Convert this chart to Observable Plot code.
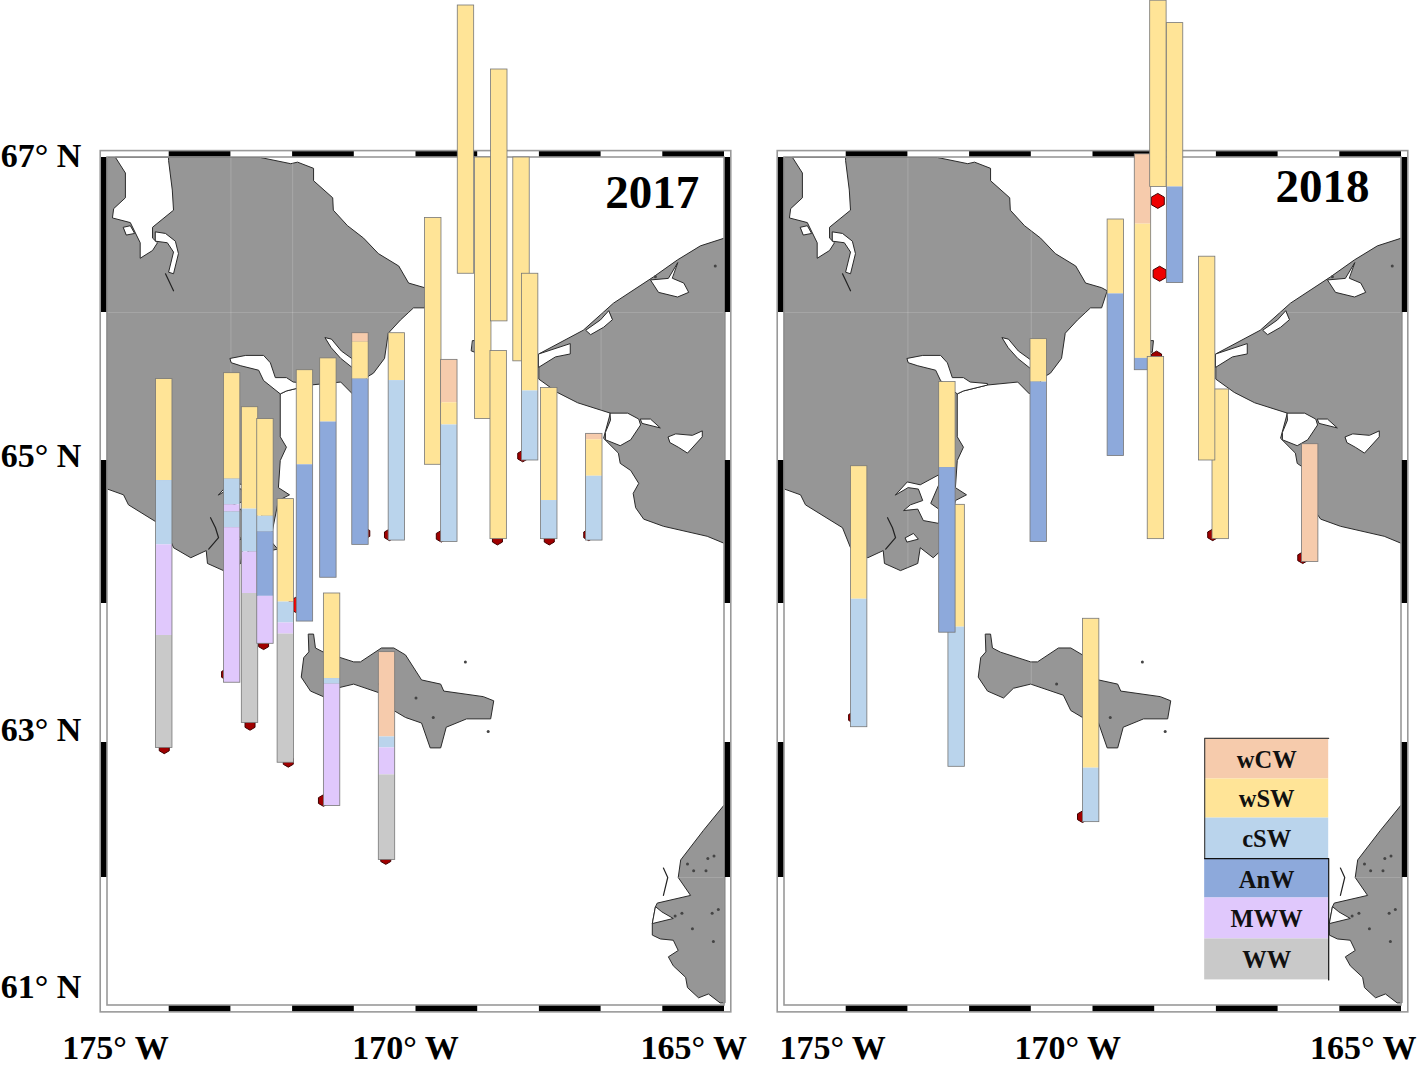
<!DOCTYPE html>
<html>
<head>
<meta charset="utf-8">
<script src="https://cdn.jsdelivr.net/npm/d3@7"></script>
<script src="https://cdn.jsdelivr.net/npm/@observablehq/plot@0.6"></script>
<style>
  body { margin: 0; background: white; }
  #chart { display: flex; width: 1417px; height: 1071px; overflow: hidden; }
  #chart svg { flex: none; max-width: none; }
</style>
</head>
<body>
<div id="chart"></div>
<script>
// water masses and their colours
const massNames = ["wCW", "wSW", "cSW", "AnW", "MWW", "WW"];
const massColors = ["#F6CBAC", "#FFE497", "#BAD4EC", "#8DA9DB", "#E0C8FC", "#C9C9C9"];

// 2017 stations: longitude, masses from top to bottom, latitude edges of the bar
const lon2017 = [-174.08, -172.98, -172.69, -172.44, -172.11, -171.80, -171.42, -170.90, -170.31, -169.72, -169.46, -169.19, -168.91, -168.65, -168.66, -168.29, -168.15, -167.84, -167.11, -171.36, -170.47];
const masses2017 = [
  ["wSW", "cSW", "MWW", "WW"], ["wSW", "cSW", "MWW", "cSW", "MWW"], ["wSW", "cSW", "MWW", "WW"], ["wSW", "cSW", "AnW", "MWW"],
  ["wSW", "cSW", "MWW", "WW"], ["wSW", "AnW"], ["wSW", "AnW"], ["wCW", "wSW", "AnW"], ["wSW", "cSW"], ["wSW"],
  ["wCW", "wSW", "cSW"], ["wSW"], ["wSW"], ["wSW"], ["wSW"], ["wSW"], ["wSW", "cSW"], ["wSW", "cSW"], ["wCW", "wSW", "cSW"],
  ["wSW", "cSW", "MWW"], ["wCW", "cSW", "MWW", "WW"]
];
const edges2017 = [
  [65.55, 64.86, 64.41, 63.77, 62.96], [65.59, 64.87, 64.69, 64.64, 64.53, 63.43], [65.36, 64.66, 64.36, 64.07, 63.14], [65.28, 64.61, 64.50, 64.05, 63.71],
  [64.73, 64.01, 63.86, 63.78, 62.85], [65.61, 64.97, 63.87], [65.69, 65.26, 64.18], [65.86, 65.80, 65.55, 64.41], [65.86, 65.54, 64.44], [66.61, 64.97],
  [65.68, 65.39, 65.24, 64.43], [67.95, 66.25], [67.00, 65.28], [67.55, 65.94], [65.74, 64.45], [67.00, 65.67], [66.25, 65.47, 65.00], [65.49, 64.72, 64.45], [65.18, 65.14, 64.89, 64.44],
  [64.07, 63.46, 63.42, 62.53], [63.65, 63.04, 62.96, 62.76, 62.13]
];

// 2018 stations
const lon2018 = [-173.79, -172.21, -172.36, -170.88, -169.63, -169.19, -168.94, -168.67, -168.98, -167.93, -168.15, -166.48, -170.03];
const masses2018 = [["wSW", "cSW"], ["wSW", "cSW"], ["wSW", "AnW"], ["wSW", "AnW"], ["wSW", "AnW"], ["wCW", "wSW", "AnW"], ["wSW"], ["wSW", "AnW"], ["wSW"], ["wSW"], ["wSW"], ["wCW"], ["wSW", "cSW"]];
const edges2018 = [
  [64.96, 64.03, 63.11], [64.69, 63.83, 62.82], [65.53, 64.95, 63.79], [65.82, 65.53, 64.43], [66.60, 66.12, 65.03], [67.02, 66.57, 65.69, 65.61],
  [67.98, 66.81], [67.84, 66.81, 66.19], [65.70, 64.45], [65.48, 64.45], [66.36, 65.00], [65.11, 64.29], [63.89, 62.81, 62.41]
];

// station dots: the ones mostly hidden under the bars look dark, the free ones bright
const darkDots2017 = [[-174.08, 62.96], [-172.69, 63.13], [-172.47, 63.71], [-172.07, 62.86], [-171.50, 62.57], [-170.49, 62.14], [-170.43, 64.48], [-169.59, 64.47], [-170.83, 64.49], [-168.68, 64.45], [-167.84, 64.45], [-167.20, 64.48], [-168.27, 65.03], [-173.07, 63.49]];
const brightDots2017 = [[-171.95, 63.99]];
const darkDots2018 = [[-168.97, 65.70], [-168.06, 64.48], [-166.60, 64.32], [-173.88, 63.18], [-170.17, 62.45]];
const brightDots2018 = [[-168.95, 66.72], [-168.92, 66.25]];

// land outlines, [lon, lat]
const chukotka = [[-175, 67], [-172.52, 67], [-172.03, 66.96], [-171.92, 66.97], [-171.66, 66.93], [-171.66, 66.85], [-171.35, 66.74], [-171.34, 66.66], [-171.11, 66.56], [-170.85, 66.48], [-170.61, 66.38], [-170.28, 66.30], [-170.12, 66.19], [-169.86, 66.16], [-169.77, 66.14], [-169.86, 66.03], [-170.04, 66.03], [-170.25, 65.95], [-170.45, 65.86], [-170.51, 65.69], [-170.69, 65.59], [-170.77, 65.57], [-171.03, 65.45], [-171.22, 65.53], [-171.71, 65.51], [-172.10, 65.47], [-172.20, 65.45], [-172.20, 65.16], [-172.10, 65.09], [-172.20, 65], [-172.23, 64.81], [-172.05, 64.76], [-172.23, 64.72], [-172.36, 64.44], [-172.24, 64.38], [-172.49, 64.36], [-172.59, 64.32], [-172.80, 64.39], [-172.84, 64.28], [-173.12, 64.23], [-173.38, 64.28], [-173.40, 64.37], [-173.65, 64.32], [-173.93, 64.39], [-174.06, 64.53], [-174.66, 64.69], [-174.74, 64.76], [-175, 64.80]];
const alaska = [[-165, 66.48], [-165.39, 66.43], [-165.76, 66.34], [-166.15, 66.23], [-166.80, 66.06], [-167.29, 65.88], [-168.01, 65.72], [-168.01, 65.55], [-167.71, 65.46], [-167.38, 65.39], [-166.85, 65.32], [-166.96, 65.15], [-166.72, 65.05], [-166.69, 64.98], [-166.52, 64.93], [-166.39, 64.84], [-166.48, 64.77], [-166.44, 64.67], [-166.31, 64.59], [-165.99, 64.54], [-165.28, 64.47], [-165, 64.42]];
const stLawrence = [[-171.74, 63.78], [-171.66, 63.78], [-171.63, 63.68], [-171.50, 63.65], [-171.01, 63.58], [-170.90, 63.58], [-170.56, 63.68], [-170.36, 63.68], [-170.17, 63.63], [-169.91, 63.45], [-169.60, 63.42], [-169.55, 63.37], [-168.91, 63.33], [-168.74, 63.30], [-168.79, 63.17], [-169.18, 63.17], [-169.51, 63.11], [-169.60, 62.96], [-169.77, 62.96], [-169.91, 63.14], [-170.17, 63.18], [-170.36, 63.23], [-170.48, 63.34], [-171.01, 63.42], [-171.29, 63.39], [-171.45, 63.32], [-171.71, 63.37], [-171.86, 63.47], [-171.82, 63.61], [-171.74, 63.65]];
const nunivak = [[-165, 62.54], [-165.34, 62.35], [-165.71, 62.13], [-165.75, 62], [-165.55, 61.86], [-166.09, 61.80], [-166.12, 61.77], [-166.17, 61.64], [-166.17, 61.55], [-166.04, 61.52], [-165.83, 61.51], [-165.75, 61.43], [-165.91, 61.38], [-165.83, 61.31], [-165.63, 61.22], [-165.60, 61.14], [-165.42, 61.06], [-165.26, 61.09], [-165.07, 61.02], [-165, 61.02]];
const diomede = [[-169.08, 65.81], [-169.02, 65.81], [-169.04, 65.73], [-169.10, 65.74]];
const landShapes = [chukotka, alaska, stLawrence, nunivak, diomede];

// bays and lagoons
const krestaGulf = [[-174.87, 67], [-174.71, 66.90], [-174.71, 66.74], [-174.90, 66.67], [-174.92, 66.61], [-174.63, 66.58], [-174.47, 66.45], [-174.47, 66.35], [-174.27, 66.40], [-174.19, 66.45], [-174.27, 66.48], [-174.27, 66.55], [-173.93, 66.66], [-173.95, 66.79], [-174.01, 66.98], [-174.01, 67]];
const krestaArm = [[-174.22, 66.52], [-174.06, 66.51], [-173.90, 66.46], [-173.85, 66.38], [-173.93, 66.25], [-174.01, 66.26], [-173.93, 66.39], [-174.03, 66.45], [-174.22, 66.46]];
const krestaIslet = [[-174.74, 66.55], [-174.63, 66.56], [-174.56, 66.51], [-174.69, 66.50]];
const mechigmen = [[-173.01, 65.69], [-172.76, 65.71], [-172.47, 65.71], [-172.36, 65.66], [-172.28, 65.56], [-172.10, 65.56], [-171.99, 65.53], [-171.71, 65.52], [-171.71, 65.51], [-172.10, 65.47], [-172.20, 65.45], [-172.47, 65.54], [-172.55, 65.61], [-172.84, 65.64], [-172.99, 65.66]];
const lagoonNorth = [[-171.47, 65.83], [-171.37, 65.82], [-171.21, 65.74], [-171.01, 65.68], [-171.01, 65.62], [-171.22, 65.69], [-171.37, 65.76]];
const providence = [[-173.20, 64.76], [-173.01, 64.85], [-172.80, 64.83], [-172.50, 64.90], [-172.50, 64.83], [-172.63, 64.70], [-172.50, 64.66], [-172.50, 64.56], [-172.75, 64.58], [-172.84, 64.66], [-173.07, 64.65], [-172.96, 64.69], [-172.76, 64.72], [-172.83, 64.80], [-172.99, 64.81]];
const providenceSmall = [[-173.04, 64.46], [-172.91, 64.49], [-172.83, 64.45], [-173.01, 64.43]];
const portClarence = [[-166.85, 65.27], [-166.93, 65.19], [-166.93, 65.14], [-166.69, 65.10], [-166.52, 65.14], [-166.36, 65.24], [-166.39, 65.28], [-166.57, 65.32], [-166.85, 65.32]];
const clarenceArm = [[-166.36, 65.28], [-166.20, 65.28], [-166.04, 65.22], [-166.33, 65.25]];
const goodhope = [[-165.91, 65.16], [-165.79, 65.18], [-165.52, 65.17], [-165.36, 65.20], [-165.36, 65.16], [-165.60, 65.05], [-165.75, 65.09], [-165.88, 65.12]];
const imuruk = [[-165.76, 66.32], [-165.91, 66.22], [-166.20, 66.21], [-166.07, 66.13], [-165.76, 66.10], [-165.58, 66.13], [-165.66, 66.19], [-165.84, 66.22]];
const lagoonCoast = [[-166.88, 66.01], [-167.01, 65.95], [-167.25, 65.88], [-167.17, 65.85], [-166.96, 65.90], [-166.82, 65.95]];
const lagoonTip = [[-168.01, 65.72], [-167.50, 65.79], [-167.50, 65.72], [-167.74, 65.70], [-168.01, 65.63]];
const yukonBay = [[-166.12, 61.77], [-166.17, 61.64], [-165.83, 61.68], [-166.01, 61.73]];
const waterShapes = [krestaGulf, krestaArm, krestaIslet, mechigmen, lagoonNorth, providence, providenceSmall, portClarence, clarenceArm, goodhope, imuruk, lagoonCoast, lagoonTip, yukonBay];

// thin slits and small specks on the map
const slits = [
  [[-174.06, 66.25], [-173.93, 66.14]],
  [[-173.33, 64.60], [-173.25, 64.53], [-173.20, 64.46], [-173.36, 64.38]],
  [[-165.99, 62.07], [-165.92, 62.00], [-165.99, 61.86]]
];
const specks = [[-170.59, 63.42], [-170.00, 63.32], [-169.72, 63.18], [-168.83, 63.08], [-169.20, 63.58], [-165.80, 61.70], [-165.69, 61.72], [-165.52, 61.60], [-165.18, 61.50], [-165.60, 62.10], [-165.50, 62.05], [-165.27, 62.14], [-165.17, 62.16], [-165.30, 62.05], [-165.20, 61.72], [-165.10, 61.75], [-166.12, 66.23], [-165.15, 66.30]];

// grid lines, only seen on land
const gridLon2017 = [-173, -172, -167];
const gridLon2018 = [-173, -171];
const gridLat = [62, 66];

// frame
const frameBlackLon = [-174, -172, -170, -168, -166];
const frameBlackLat = [67, 65, 63];

const latDegrees = [60, 61, 62, 63, 64, 65, 66, 67, 68];
const latRows = [1130, 1005, 877, 742, 603, 460, 312, 157, -3];
const latToRow = d3.scaleLinear().domain(latDegrees).range(latRows);

// text
const lonLabels = ["175° W", "170° W", "165° W"];
const lonLabelX2017 = [-174.87, -170.17, -165.50];
const lonLabelX2018 = [-174.22, -170.41, -165.62];
const latLabels = ["67° N", "65° N", "63° N", "61° N"];
const latLabelY = [67.01, 65.03, 63.09, 61.14];

// legend, inside the 2018 panel
const legendEdges = [63.03, 62.73, 62.44, 62.14, 61.84, 61.52, 61.20];
const legendLon = [-168.19, -166.18];

const serif = {fontFamily: "Liberation Serif", fontWeight: "bold"};

function barMarks(lons, masses, edges) {
  return lons.flatMap((lon, i) => {
    const segs = masses[i].map((m, j) => ({lon, mass: m, top: edges[i][j], bottom: edges[i][j + 1]}));
    const whole = [{lon, top: edges[i][0], bottom: edges[i][edges[i].length - 1]}];
    return [
      Plot.rect(segs, {x1: d => d.lon - 0.133, x2: d => d.lon + 0.133, y1: "bottom", y2: "top", fill: "mass"}),
      Plot.rect(whole, {x1: d => d.lon - 0.133, x2: d => d.lon + 0.133, y1: "bottom", y2: "top", stroke: "#777", strokeWidth: 0.8, fill: "none"})
    ];
  });
}

function shape(points, fill) {
  return Plot.line(points, {x: d => d[0], y: d => d[1], fill, stroke: "#2a2a2a", strokeWidth: 1, curve: "linear-closed"});
}

function panel(o) {
  const outerW = -175.11, outerE = -164.89, outerN = 67.04, outerS = 60.945;
  const band = (x1, x2, y1, y2) => Plot.rect([0], {x1: () => x1, x2: () => x2, y1: () => y1, y2: () => y2, stroke: "#999", strokeWidth: 1.6, fill: "none"});
  return Plot.plot({
    width: o.width,
    height: 1071,
    x: {domain: [-175, -165], range: o.xRange, axis: null},
    y: {transform: latToRow, domain: [0, 1071], range: [0, 1071], axis: null},
    color: {domain: massNames, range: massColors},
    marks: [
      landShapes.map(s => shape(s, "#969696")),
      Plot.ruleX(o.gridLon, {y1: 61, y2: 67, stroke: "white", strokeOpacity: 0.15, strokeWidth: 1.2}),
      Plot.ruleY(gridLat, {x1: -175, x2: -165, stroke: "white", strokeOpacity: 0.15, strokeWidth: 1.2}),
      waterShapes.map(s => shape(s, "white")),
      slits.map(s => Plot.line(s, {x: d => d[0], y: d => d[1], stroke: "#222", strokeWidth: 1.2})),
      Plot.dot(specks, {x: d => d[0], y: d => d[1], r: 1.5, fill: "#444"}),

      // frame: white band with black pieces, one per degree
      Plot.rect(frameBlackLon, {x1: d => d, x2: d => d + 1, y1: 67, y2: outerN, fill: "black"}),
      Plot.rect(frameBlackLon, {x1: d => d, x2: d => d + 1, y1: 61, y2: outerS, fill: "black"}),
      Plot.rect(frameBlackLat, {x1: outerW, x2: -175, y1: d => d, y2: d => d - 1, fill: "black"}),
      Plot.rect(frameBlackLat, {x1: -165, x2: outerE, y1: d => d, y2: d => d - 1, fill: "black"}),
      band(outerW, outerE, outerS, outerN),
      band(-175, -165, 61, 67),

      Plot.dot(o.darkDots, {x: d => d[0], y: d => d[1], r: 5, symbol: "hexagon", fill: "#a00000", stroke: "#400000", strokeWidth: 1}),
      Plot.dot(o.brightDots, {x: d => d[0], y: d => d[1], r: 6.5, symbol: "hexagon", fill: "#ee0000", stroke: "#400000", strokeWidth: 1}),
      barMarks(o.lons, o.masses, o.edges),

      Plot.text([o.year], {x: () => o.yearAt[0], y: () => o.yearAt[1], text: d => d, fontSize: 47, fill: "black", ...serif}),
      Plot.text(lonLabels, {x: (d, i) => o.lonLabelX[i], y: () => 60.66, text: d => d, fontSize: 34, fill: "black", ...serif}),
      o.latLabels ? Plot.text(latLabels, {x: () => -176.73, y: (d, i) => latLabelY[i], text: d => d, textAnchor: "start", fontSize: 34, fill: "black", ...serif}) : null,
      o.legend ? legendMarks() : null
    ]
  });
}

function legendMarks() {
  const rows = massNames.map((m, i) => ({mass: m, top: legendEdges[i], bottom: legendEdges[i + 1]}));
  const [w, e] = legendLon;
  return [
    Plot.rect(rows, {x1: w, x2: e, y1: "bottom", y2: "top", fill: "mass"}),
    Plot.text(rows, {x: (w + e) / 2, y: d => (d.top + d.bottom) / 2, text: "mass", dy: 1, fontSize: 24.5, fill: "#111", ...serif}),
    Plot.line([[w, legendEdges[3]], [w, legendEdges[0]], [e, legendEdges[0]]], {x: d => d[0], y: d => d[1], stroke: "#444", strokeWidth: 1.2}),
    Plot.line([[w, legendEdges[3]], [e, legendEdges[3]], [e, legendEdges[6]]], {x: d => d[0], y: d => d[1], stroke: "#111", strokeWidth: 1.2})
  ];
}

const chart2017 = panel({
  width: 760, xRange: [107, 724], year: "2017", yearAt: [-166.17, 66.77], gridLon: gridLon2017,
  lons: lon2017, masses: masses2017, edges: edges2017, darkDots: darkDots2017, brightDots: brightDots2017, lonLabelX: lonLabelX2017, latLabels: true, legend: false
});
const chart2018 = panel({
  width: 657, xRange: [24, 641], year: "2018", yearAt: [-166.28, 66.81], gridLon: gridLon2018,
  lons: lon2018, masses: masses2018, edges: edges2018, darkDots: darkDots2018, brightDots: brightDots2018, lonLabelX: lonLabelX2018, latLabels: false, legend: true
});

d3.select("#chart").append(() => chart2017);
d3.select("#chart").append(() => chart2018);
</script>
</body>
</html>
